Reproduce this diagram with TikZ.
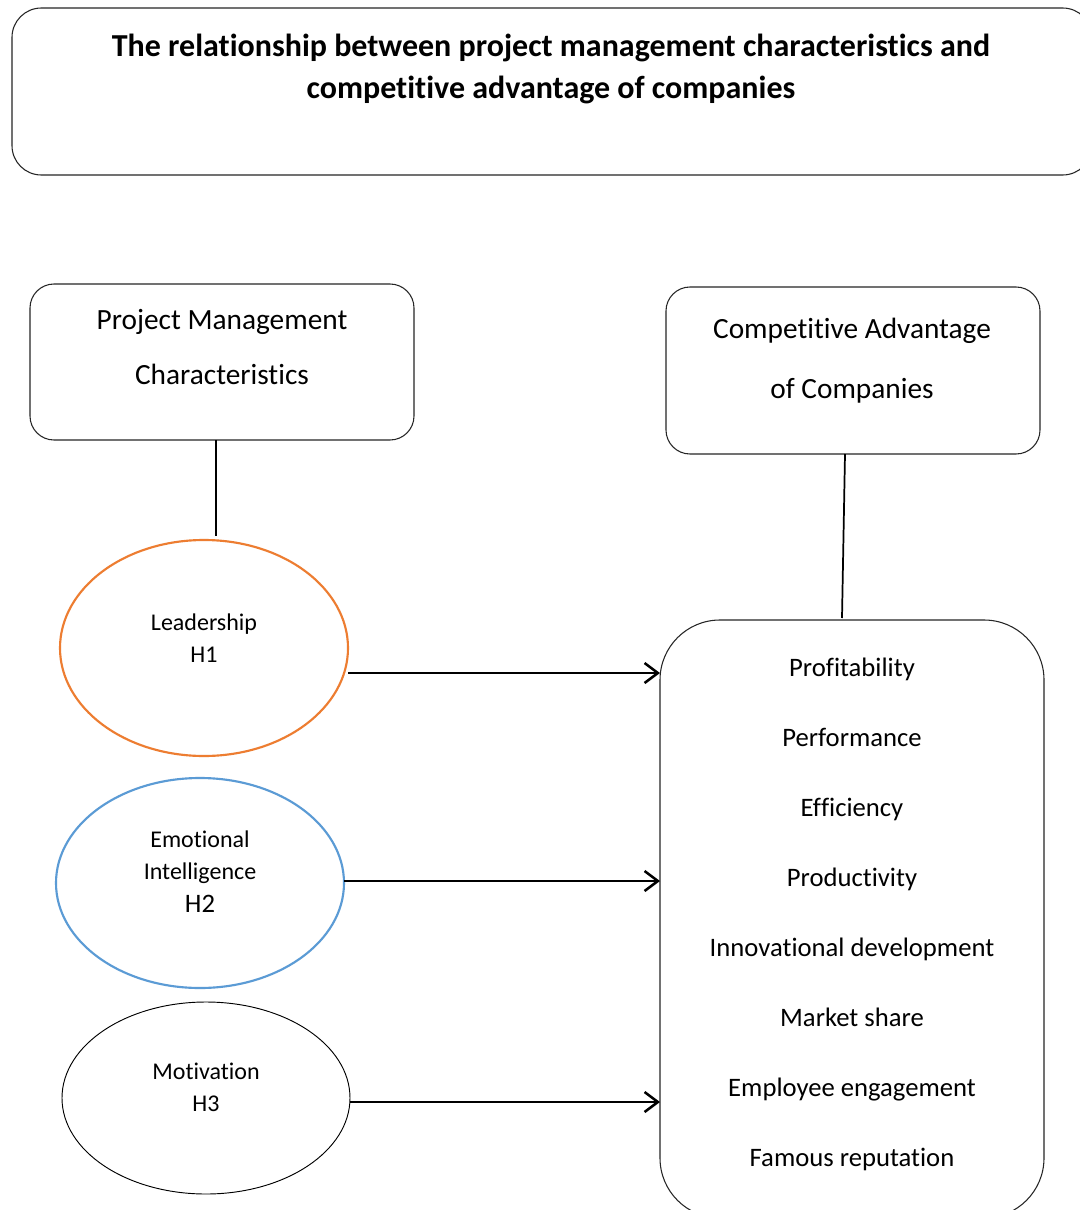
\documentclass[tikz,border=0pt]{standalone}
\usepackage{fontspec}
\setmainfont{Carlito}[Ligatures={NoCommon,NoContextual,NoRare},Contextuals={NoAlternate}]
\usetikzlibrary{arrows.meta,shapes.geometric}
\definecolor{hOrange}{HTML}{ED7D31}
\definecolor{hBlue}{HTML}{5B9BD5}
\def\u{0.75pt}
% splits a letter pair so the font sets the two glyphs apart
\newcommand\sepg{\kern0pt }
\begin{document}
\begin{tikzpicture}[x=0.75pt,y=-0.75pt,
  frame/.style={draw=black!85, line width=0.8pt, inner sep=0pt, outer sep=0pt},
  oval/.style={draw, ellipse, inner sep=0pt, outer sep=0pt},
  txt/.style={inner sep=0pt, anchor=base},
  link/.style={line width=1.3pt},
  arr/.style={line width=1.9pt, -{Straight Barb[length=10pt,width=15pt,line width=1.9pt]}}]
\useasboundingbox (0,0) rectangle (1079,1210);
\fill[white] (0,0) rectangle (1079,1210);

% heading frame
\node[frame, rounded corners=22pt, minimum width={1080*\u}, minimum height={167*\u}] (head) at (552,91.5) {};
\node[txt, font=\fontsize{24}{30}\selectfont\bfseries] (h1) at (551,56.5) {The relationship between project management characterist\sepg ics and};
\node[txt, font=\fontsize{24}{30}\selectfont\bfseries] (h2) at (551,98.5) {compet\sepg it\sepg ive advantage of companies};

% the two concept boxes
\node[frame, rounded corners=18pt, minimum width={384*\u}, minimum height={156*\u}] (pmc) at (222,362) {};
\node[txt, font=\fontsize{22}{26}\selectfont] (p1) at (222,329.5) {Project Management};
\node[txt, font=\fontsize{22}{26}\selectfont] (p2) at (222,384.5) {Characterist\sepg ics};

\node[frame, rounded corners=18pt, minimum width={374*\u}, minimum height={167*\u}] (cac) at (853,370.5) {};
\node[txt, font=\fontsize{22}{26}\selectfont] (c1) at (852,338.5) {Compet\sepg it\sepg ive Advantage};
\node[txt, font=\fontsize{22}{26}\selectfont] (c2) at (852,398.5) {of Companies};

% hypotheses
\node[oval, draw=hOrange, line width=1.6pt, minimum width={288*\u}, minimum height={216*\u}] (lead) at (204,648) {};
\node[txt, font=\fontsize{18}{22}\selectfont] at (204,630) {Leadership};
\node[txt, font=\fontsize{18}{22}\selectfont] at (204,662) {H1};

\node[oval, draw=hBlue, line width=1.6pt, minimum width={288*\u}, minimum height={210*\u}] (emo) at (200,883) {};
\node[txt, font=\fontsize{18}{22}\selectfont] at (200,847) {Emot\sepg ional};
\node[txt, font=\fontsize{18}{22}\selectfont] at (200,879) {Intelligence};
\node[txt, font=\fontsize{20}{24}\selectfont] at (200,912) {H2};

\node[oval, draw=black, line width=0.7pt, minimum width={288*\u}, minimum height={192*\u}] (mot) at (206,1098) {};
\node[txt, font=\fontsize{18}{22}\selectfont] at (206,1079) {Mot\sepg ivat\sepg ion};
\node[txt, font=\fontsize{18}{22}\selectfont] at (206,1111) {H3};

% indicators of competitive advantage
\node[frame, rounded corners=45pt, minimum width={384*\u}, minimum height={598*\u}] (cav) at (852,919) {};
\foreach \t [count=\i from 0] in {Prof\sepg itability, Performance, Ef\sepg f\sepg iciency, Product\sepg ivity,
  Innovat\sepg ional development, Market share, Employee engagement, Famous reputat\sepg ion}
  \node[txt, font=\fontsize{20}{24}\selectfont] (ind\i) at (852,{676+70.1*\i}) {\t};

% connectors
\draw[link] ([xshift=-6*\u]pmc.south) -- ([xshift=-6*\u, yshift=-96*\u]pmc.south);
\coordinate (cavtop) at ([xshift=-10*\u, yshift=2*\u]cav.north);
\draw[link] ([xshift=-8*\u]cac.south) -- (cavtop);

\coordinate (a1) at ([yshift=-25*\u]lead.east);
\coordinate (a2) at ([yshift=2*\u]emo.east);
\coordinate (a3) at ([yshift=-4*\u]mot.east);
\draw[arr] (a1) -- (cav.west |- a1);
\draw[arr] (a2) -- (cav.west |- a2);
\draw[arr] (a3) -- (cav.west |- a3);
\end{tikzpicture}
\end{document}
